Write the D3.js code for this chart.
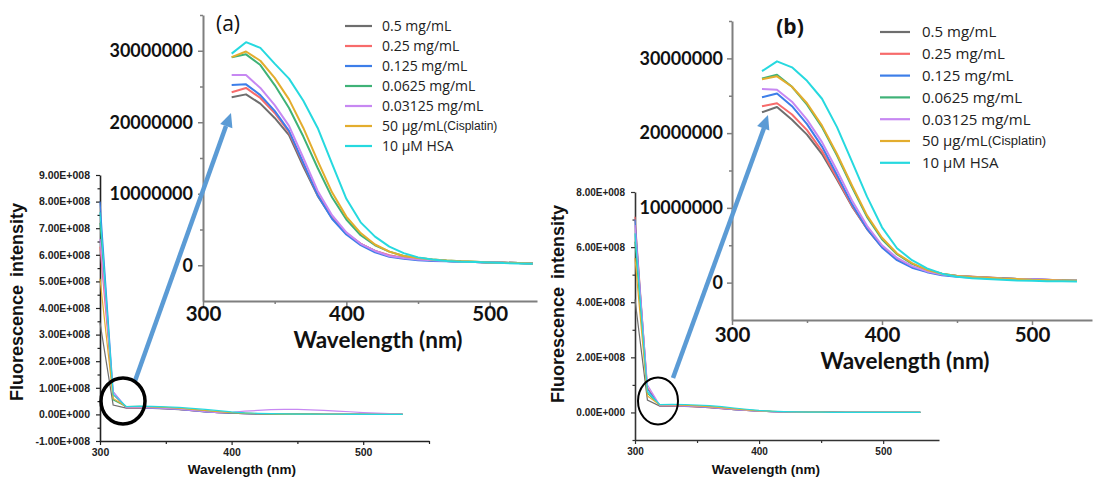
<!DOCTYPE html>
<html>
<head>
<meta charset="utf-8">
<script src="https://cdn.jsdelivr.net/npm/d3@7"></script>
<style>
  body { margin: 0; background: #fff; }
  svg { display: block; }
</style>
</head>
<body>
<svg id="chart" width="1094" height="478"></svg>
<script>
// wavelengths of the zoomed spectra (nm)
var wavelengths = [320, 330, 340, 350, 360, 370, 380, 390, 400, 410, 420, 430,
                   440, 450, 460, 470, 480, 490, 500, 510, 520, 530];

var seriesNames = ['0.5 mg/mL', '0.25 mg/mL', '0.125 mg/mL', '0.0625 mg/mL',
                   '0.03125 mg/mL', '50 µg/mL', '10 µM HSA'];
var seriesColors = ['#6e6e6e', '#f76b6b', '#3d7ee9', '#3fb277', '#c788f2', '#e3ad2e', '#26d9df'];

// inset spectra, units of 1e7
var insetA = [
  [2.35, 2.39, 2.26, 2.06, 1.82, 1.38, 0.97, 0.66, 0.44, 0.30, 0.20, 0.13, 0.10, 0.08, 0.07, 0.06, 0.05, 0.045, 0.04, 0.035, 0.03, 0.025],
  [2.42, 2.48, 2.34, 2.13, 1.86, 1.42, 0.99, 0.67, 0.45, 0.30, 0.20, 0.14, 0.10, 0.08, 0.07, 0.06, 0.05, 0.045, 0.04, 0.035, 0.03, 0.025],
  [2.52, 2.53, 2.38, 2.16, 1.88, 1.43, 0.98, 0.65, 0.43, 0.28, 0.18, 0.12, 0.09, 0.07, 0.06, 0.055, 0.05, 0.045, 0.04, 0.035, 0.03, 0.025],
  [2.91, 2.95, 2.80, 2.52, 2.20, 1.80, 1.36, 0.95, 0.64, 0.42, 0.28, 0.19, 0.13, 0.10, 0.08, 0.065, 0.055, 0.05, 0.04, 0.035, 0.03, 0.025],
  [2.66, 2.66, 2.48, 2.24, 1.95, 1.50, 1.04, 0.70, 0.46, 0.30, 0.20, 0.13, 0.10, 0.08, 0.07, 0.06, 0.05, 0.045, 0.04, 0.035, 0.03, 0.025],
  [2.91, 2.99, 2.86, 2.62, 2.32, 1.92, 1.46, 1.02, 0.68, 0.45, 0.29, 0.19, 0.13, 0.10, 0.08, 0.065, 0.055, 0.05, 0.04, 0.035, 0.03, 0.025],
  [2.96, 3.12, 3.04, 2.82, 2.61, 2.30, 1.92, 1.42, 0.93, 0.60, 0.40, 0.26, 0.17, 0.11, 0.08, 0.06, 0.05, 0.045, 0.04, 0.03, 0.025, 0.02]
];
var insetB = [
  [2.28, 2.35, 2.18, 1.98, 1.72, 1.38, 1.02, 0.72, 0.48, 0.32, 0.21, 0.15, 0.11, 0.09, 0.08, 0.07, 0.06, 0.05, 0.045, 0.035, 0.03, 0.025],
  [2.36, 2.40, 2.25, 2.04, 1.76, 1.40, 1.03, 0.72, 0.48, 0.31, 0.21, 0.15, 0.11, 0.09, 0.08, 0.07, 0.06, 0.05, 0.045, 0.04, 0.03, 0.025],
  [2.48, 2.53, 2.36, 2.12, 1.82, 1.44, 1.05, 0.72, 0.47, 0.30, 0.20, 0.14, 0.10, 0.08, 0.07, 0.06, 0.055, 0.05, 0.045, 0.04, 0.03, 0.025],
  [2.73, 2.78, 2.62, 2.38, 2.08, 1.70, 1.28, 0.88, 0.58, 0.38, 0.25, 0.17, 0.12, 0.09, 0.075, 0.065, 0.055, 0.05, 0.04, 0.035, 0.03, 0.025],
  [2.59, 2.58, 2.42, 2.18, 1.88, 1.50, 1.10, 0.76, 0.50, 0.33, 0.22, 0.15, 0.11, 0.09, 0.075, 0.065, 0.055, 0.05, 0.045, 0.04, 0.03, 0.025],
  [2.72, 2.76, 2.62, 2.40, 2.10, 1.72, 1.30, 0.90, 0.60, 0.39, 0.26, 0.17, 0.12, 0.09, 0.075, 0.065, 0.055, 0.05, 0.04, 0.035, 0.03, 0.025],
  [2.83, 2.96, 2.88, 2.70, 2.46, 2.08, 1.62, 1.15, 0.74, 0.46, 0.30, 0.19, 0.12, 0.08, 0.06, 0.05, 0.04, 0.03, 0.025, 0.02, 0.02, 0.015]
];

// full-range plots: first two points (300, 310 nm), units of 1e8
var startA300 = [3.45, 6.3, 8.0, 7.2, 6.6, 5.1, 7.6];
var startA310 = [0.35, 0.75, 0.85, 0.55, 0.85, 0.60, 0.75];
var startB300 = [4.1, 7.1, 7.0, 6.2, 6.8, 5.6, 6.5];
var startB310 = [0.45, 0.90, 0.85, 0.70, 1.0, 0.60, 0.75];

// purple bump in the full plot (a), 400..530 nm, units of 1e8
var purpleTailWl = [400, 410, 420, 430, 440, 450, 460, 470, 480, 490, 500, 510, 520, 530];
var purpleTailA = [0.08, 0.12, 0.15, 0.18, 0.19, 0.19, 0.17, 0.15, 0.12, 0.10, 0.07, 0.05, 0.03, 0.01];

var svg = d3.select('#chart');
var mainFont = '"Liberation Sans", Arial, sans-serif';
var insetFont = 'Lato, "Open Sans", sans-serif';
var legendFont = '"Open Sans", "Noto Sans", sans-serif';

function sciFmt(v) {
    if (v === 0) return '0.00E+000';
    return (v / 1e8).toFixed(2) + 'E+008';
}

function fullSeries(start300, start310, inset, tailIdx, tailWl, tailVals) {
    return inset.map(function(vals, i) {
        var pts = [{x: 300, y: start300[i] * 1e8}, {x: 310, y: start310[i] * 1e8}];
        wavelengths.forEach(function(w, j) {
            var y = vals[j] * 1e7;
            if (i === tailIdx && tailWl) {
                var k = tailWl.indexOf(w);
                if (k >= 0) y = tailVals[k] * 1e8;
            }
            pts.push({x: w, y: y});
        });
        return pts;
    });
}

function insetSeries(inset) {
    return inset.map(function(vals) {
        return wavelengths.map(function(w, j) { return {x: w, y: vals[j] * 1e7}; });
    });
}

function drawMain(c) {
    var g = svg.append('g');
    var x = d3.scaleLinear().domain(c.xDomain).range(c.xRange);
    var y = d3.scaleLinear().domain(c.yDomain).range(c.yRange);

    // minor ticks
    g.append('g').attr('transform', 'translate(' + c.xRange[0] + ',0)')
        .call(d3.axisLeft(y).tickValues(c.yMinor).tickSize(2.5).tickFormat('').tickSizeOuter(0))
        .call(function(a) { a.select('.domain').remove(); a.selectAll('line').attr('stroke', c.axisColor).attr('stroke-width', 1.2); });
    g.append('g').attr('transform', 'translate(0,' + c.yRange[0] + ')')
        .call(d3.axisBottom(x).tickValues(c.xMinor).tickSize(3).tickFormat('').tickSizeOuter(0))
        .call(function(a) { a.select('.domain').remove(); a.selectAll('line').attr('stroke', c.axisColor).attr('stroke-width', 1.2); });

    var ya = g.append('g').attr('transform', 'translate(' + c.xRange[0] + ',0)')
        .call(d3.axisLeft(y).tickValues(c.yTicks).tickSize(4).tickPadding(6).tickFormat(sciFmt).tickSizeOuter(0));
    var xa = g.append('g').attr('transform', 'translate(0,' + c.yRange[0] + ')')
        .call(d3.axisBottom(x).tickValues([300, 400, 500]).tickSize(4).tickPadding(4).tickSizeOuter(0));
    [ya, xa].forEach(function(a) {
        a.select('.domain').attr('stroke', c.axisColor).attr('stroke-width', 1.6);
        a.selectAll('line').attr('stroke', c.axisColor).attr('stroke-width', 1.2);
        a.selectAll('text').attr('font-family', mainFont).attr('font-weight', 'bold')
            .attr('font-size', c.tickFont).attr('fill', '#222');
    });

    var line = d3.line().x(function(d) { return x(d.x); }).y(function(d) { return y(d.y); });
    g.append('g').selectAll('path').data(c.series).enter().append('path')
        .attr('d', line).attr('fill', 'none').attr('stroke-width', 1.2)
        .attr('stroke', function(d, i) { return seriesColors[i]; });

    g.append('text').attr('x', c.xTitle[0]).attr('y', c.xTitle[1]).attr('text-anchor', 'middle')
        .attr('font-family', mainFont).attr('font-weight', 'bold').attr('font-size', 13.5)
        .attr('fill', '#111').text('Wavelength (nm)');
    g.append('text').attr('transform', 'translate(' + c.yTitle[0] + ',' + c.yTitle[1] + ') rotate(-90)')
        .attr('text-anchor', 'middle').attr('font-family', mainFont).attr('font-weight', 'bold')
        .attr('font-size', 18).attr('fill', '#111').attr('word-spacing', 3).text('Fluorescence intensity');
}

function drawInset(c) {
    var g = svg.append('g');
    var x = d3.scaleLinear().domain(c.xDomain).range(c.xRange);
    var y = d3.scaleLinear().domain([-5e6, 3.5e7]).range(c.yRange);

    g.append('g').attr('transform', 'translate(' + c.xRange[0] + ',0)')
        .call(d3.axisLeft(y).tickValues([5e6, 1.5e7, 2.5e7, 3.5e7]).tickSize(3).tickFormat('').tickSizeOuter(0))
        .call(function(a) { a.select('.domain').remove(); a.selectAll('line').attr('stroke', '#7f7f7f').attr('stroke-width', 1.5); });
    g.append('g').attr('transform', 'translate(0,' + c.yRange[0] + ')')
        .call(d3.axisBottom(x).tickValues([350, 450]).tickSize(3).tickFormat('').tickSizeOuter(0))
        .call(function(a) { a.select('.domain').remove(); a.selectAll('line').attr('stroke', '#7f7f7f').attr('stroke-width', 1.5); });

    var ya = g.append('g').attr('transform', 'translate(' + c.xRange[0] + ',0)')
        .call(d3.axisLeft(y).tickValues([0, 1e7, 2e7, 3e7]).tickSize(5).tickPadding(c.yPad)
            .tickFormat(d3.format('d')).tickSizeOuter(0));
    var xa = g.append('g').attr('transform', 'translate(0,' + c.yRange[0] + ')')
        .call(d3.axisBottom(x).tickValues([300, 400, 500]).tickSize(5).tickPadding(c.xPad).tickSizeOuter(0));
    ya.selectAll('text').attr('font-size', 18);
    xa.selectAll('text').attr('font-size', 20.5);
    [ya, xa].forEach(function(a) {
        a.select('.domain').attr('stroke', '#7f7f7f').attr('stroke-width', 2);
        a.selectAll('line').attr('stroke', '#7f7f7f').attr('stroke-width', 1.5);
        a.selectAll('text').attr('font-family', insetFont).attr('font-weight', 'bold').attr('fill', '#111');
    });

    var line = d3.line().x(function(d) { return x(d.x); }).y(function(d) { return y(d.y); });
    g.append('g').selectAll('path').data(c.series).enter().append('path')
        .attr('d', line).attr('fill', 'none').attr('stroke-width', 2).attr('stroke-linejoin', 'round')
        .attr('stroke', function(d, i) { return seriesColors[i]; });

    g.append('text').attr('x', c.xTitle[0]).attr('y', c.xTitle[1]).attr('text-anchor', 'middle')
        .attr('font-family', insetFont).attr('font-weight', 'bold').attr('font-size', 22.5)
        .attr('fill', '#111').text('Wavelength (nm)');

    g.append('text').attr('x', c.tag[0]).attr('y', c.tag[1]).attr('text-anchor', 'middle')
        .attr('font-family', legendFont).attr('font-weight', c.tagWeight).attr('font-size', 21)
        .attr('fill', '#111').text(c.tagText);

    // legend
    var lg = g.append('g');
    seriesNames.forEach(function(name, i) {
        var yy = c.legend.y0 + i * c.legend.dy;
        lg.append('line').attr('x1', c.legend.x0).attr('x2', c.legend.x0 + c.legend.len)
            .attr('y1', yy).attr('y2', yy).attr('stroke', seriesColors[i]).attr('stroke-width', 2.2);
        var t = lg.append('text').attr('x', c.legend.tx).attr('y', yy + c.legend.fs * 0.36)
            .attr('font-family', legendFont).attr('font-size', c.legend.fs).attr('fill', '#222').text(name);
        if (i === 5) {
            t.append('tspan').attr('font-family', mainFont).attr('font-size', c.legend.fs - 2)
                .attr('dy', -1).text('(Cisplatin)');
        }
    });
}

function drawPointer(c) {
    svg.append('line').attr('x1', c.from[0]).attr('y1', c.from[1])
        .attr('x2', c.shaftEnd[0]).attr('y2', c.shaftEnd[1])
        .attr('stroke', '#5b9bd5').attr('stroke-width', 4.5);
    var ang = Math.atan2(c.tip[1] - c.from[1], c.tip[0] - c.from[0]);
    var L = 14, W = 6.5;
    var bx = c.tip[0] - L * Math.cos(ang), by = c.tip[1] - L * Math.sin(ang);
    var px = -Math.sin(ang) * W, py = Math.cos(ang) * W;
    svg.append('path')
        .attr('d', 'M' + c.tip[0] + ',' + c.tip[1] + 'L' + (bx + px) + ',' + (by + py) + 'L' + (bx - px) + ',' + (by - py) + 'Z')
        .attr('fill', '#5b9bd5');
    svg.append('ellipse').attr('cx', c.circle[0]).attr('cy', c.circle[1])
        .attr('rx', c.circle[2]).attr('ry', c.circle[3])
        .attr('fill', 'none').attr('stroke', '#000').attr('stroke-width', c.circle[4]);
}

// panel (a)
drawMain({
    xDomain: [300, 550], xRange: [100, 429],
    yDomain: [-1e8, 9e8], yRange: [441, 175],
    yTicks: [-1e8, 0, 1e8, 2e8, 3e8, 4e8, 5e8, 6e8, 7e8, 8e8, 9e8],
    yMinor: [-0.5e8, 0.5e8, 1.5e8, 2.5e8, 3.5e8, 4.5e8, 5.5e8, 6.5e8, 7.5e8, 8.5e8],
    xMinor: [350, 450, 550],
    tickFont: 10.5, axisColor: '#222',
    xTitle: [242, 474], yTitle: [23, 302],
    series: fullSeries(startA300, startA310, insetA, 4, purpleTailWl, purpleTailA)
});
drawInset({
    xDomain: [300, 533], xRange: [203, 537], yRange: [301, 15],
    yPad: 5, xPad: 0,
    xTitle: [378, 348],
    tag: [228, 31], tagText: '(a)', tagWeight: 'normal',
    legend: {x0: 345, len: 27, tx: 382, y0: 26, dy: 20, fs: 14},
    series: insetSeries(insetA)
});
drawPointer({from: [135, 381], shaftEnd: [226, 126], tip: [231, 113], circle: [123, 401, 22, 23, 3.5]});

// panel (b)
drawMain({
    xDomain: [300, 545], xRange: [635, 939],
    yDomain: [-1e8, 8e8], yRange: [440, 192],
    yTicks: [0, 2e8, 4e8, 6e8, 8e8],
    yMinor: [-1e8, 1e8, 3e8, 5e8, 7e8],
    xMinor: [350, 450],
    tickFont: 10, axisColor: '#333',
    xTitle: [766, 474], yTitle: [564, 304],
    series: fullSeries(startB300, startB310, insetB, -1)
});
drawInset({
    xDomain: [300, 540], xRange: [732, 1092], yRange: [320, 21],
    yPad: 4, xPad: 2.5,
    xTitle: [905, 369],
    tag: [790, 34], tagText: '(b)', tagWeight: 'bold',
    legend: {x0: 880, len: 30, tx: 922, y0: 32, dy: 21.8, fs: 15},
    series: insetSeries(insetB)
});
drawPointer({from: [673, 378], shaftEnd: [764, 128], tip: [768, 115], circle: [658, 401, 20, 23.5, 2]});
</script>
</body>
</html>
